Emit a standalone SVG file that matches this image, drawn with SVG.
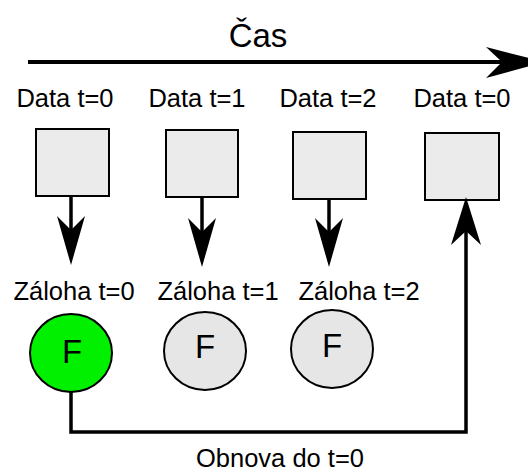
<svg xmlns="http://www.w3.org/2000/svg" width="528" height="471" viewBox="0 0 528 471">
  <style>
    text { font-family: "Liberation Sans", Arial, sans-serif; fill: #000; text-anchor: middle; }
    .lbl { font-size: 25.5px; }
    .big { font-size: 33px; }
    .box { fill: #ebebeb; stroke: #000; stroke-width: 2; }
    .store { fill: #e6e6e6; stroke: #000; stroke-width: 2; }
    .store.current { fill: #00f000; }
    .wire { fill: none; stroke: #000; stroke-width: 3.5; }
    .head { fill: #000; stroke: none; }
  </style>

  <!-- time axis -->
  <g id="time-axis">
    <line x1="28" y1="62" x2="505" y2="62" stroke="#000" stroke-width="4"/>
    <path class="head" d="M544,62 L486,47 L502,62 L486,78 Z"/>
    <text class="big" x="258" y="47">Čas</text>
  </g>

  <!-- data snapshots -->
  <g id="data0">
    <text class="lbl" x="65" y="107">Data t=0</text>
    <rect class="box" x="36" y="129" width="73" height="67"/>
  </g>
  <g id="data1">
    <text class="lbl" x="197" y="107">Data t=1</text>
    <rect class="box" x="166" y="130" width="72" height="67"/>
  </g>
  <g id="data2">
    <text class="lbl" x="328" y="107">Data t=2</text>
    <rect class="box" x="293" y="132" width="73" height="67"/>
  </g>
  <g id="data0-restored">
    <text class="lbl" x="462" y="107">Data t=0</text>
    <rect class="box" x="425" y="133" width="74" height="67"/>
  </g>

  <!-- backups -->
  <g id="backup0">
    <text class="lbl" x="74" y="300">Záloha t=0</text>
    <ellipse class="store current" cx="71" cy="353" rx="41" ry="39"/>
    <text class="big" x="72" y="363">F</text>
  </g>
  <g id="backup1">
    <text class="lbl" x="218" y="300">Záloha t=1</text>
    <ellipse class="store" cx="205" cy="351" rx="41" ry="39"/>
    <text class="big" x="205" y="358">F</text>
  </g>
  <g id="backup2">
    <text class="lbl" x="359" y="300">Záloha t=2</text>
    <ellipse class="store" cx="332" cy="349" rx="41" ry="39"/>
    <text class="big" x="332" y="357">F</text>
  </g>

  <!-- connectors -->
  <g id="connectors">
    <line class="wire" x1="71" y1="196" x2="71" y2="235"/>
    <path class="head" d="M71,265 L57,216 L71,230 L85,216 Z"/>
    <line class="wire" x1="202" y1="197" x2="202" y2="237"/>
    <path class="head" d="M202,267 L188,218 L202,232 L216,218 Z"/>
    <line class="wire" x1="329" y1="199" x2="329" y2="237"/>
    <path class="head" d="M329,267 L315,218 L329,232 L343,218 Z"/>
    <polyline class="wire" points="71,392 71,432 466,432 466,230"/>
    <path class="head" d="M466,197 L451,245 L466,231 L481,245 Z"/>
    <text class="lbl" x="280" y="467">Obnova do t=0</text>
  </g>
</svg>
